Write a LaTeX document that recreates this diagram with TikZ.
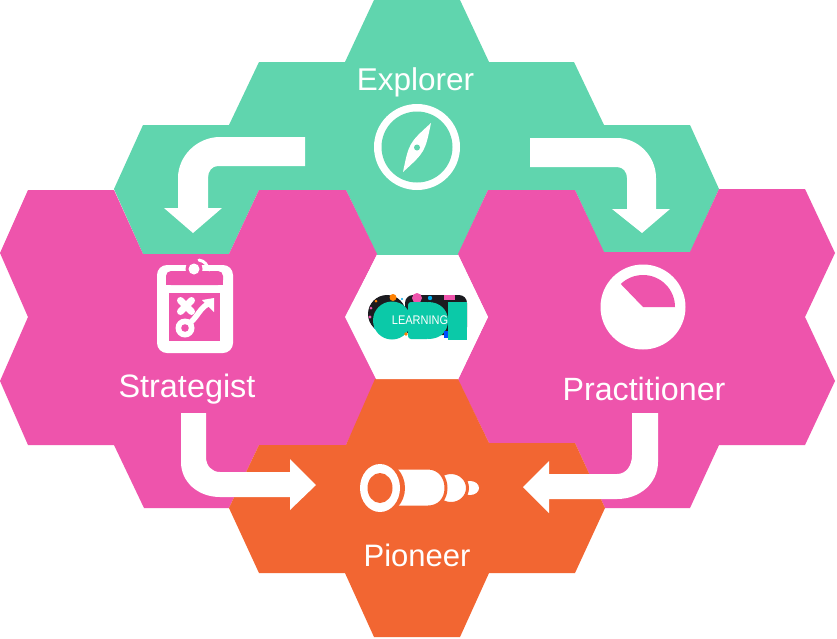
\documentclass[tikz,border=0pt]{standalone}
\usepackage{fontspec}
\setmainfont{Liberation Sans}
\newfontfamily\logofont[FakeStretch=0.88]{Liberation Sans}
\definecolor{hgreen}{HTML}{60D5AE}
\definecolor{hpink}{HTML}{EE54AC}
\definecolor{horange}{HTML}{F26632}
\definecolor{lteal}{HTML}{0BC9A8}
\definecolor{ldark}{HTML}{1B1B20}
\tikzset{
  hexshape/.style={draw=none},
  flow/.style={fill=white,draw=none},
  lab/.style={text=white,inner sep=0pt,anchor=base},
}
\begin{document}
\begin{tikzpicture}[x=1pt,y=-1pt]
\useasboundingbox (0,0) rectangle (837,638);
\fill[white] (0,0) rectangle (837,638);
% green cluster
\fill[hgreen,hexshape] (374,0)--(460,0)--(489,62)--(574,62)--(604,125)--(690,125)--(719,189)--(690,253)--(604,253)--(575,190)--(488,190)--(458,255)--(377,255)--(346,190)--(259,190)--(229,254)--(143,254)--(114,189)--(143,125)--(229,125)--(259,62)--(345,62)--cycle;
% pink left
\fill[hpink,hexshape] (28,190)--(114,190)--(143,254)--(229,254)--(259,190)--(346,190)--(377,254)--(346,317)--(377,380)--(346,445)--(259,445)--(229,508)--(144,508)--(114,445)--(28,445)--(0,381)--(28,317)--(0,253)--cycle;
% pink right
\fill[hpink,hexshape] (488,190)--(575,190)--(604,252)--(690,252)--(719,189)--(805,189)--(835,253)--(805,317)--(835,381)--(805,445)--(719,445)--(690,508)--(605,508)--(575,443)--(489,443)--(458,380)--(488,317)--(458,254)--cycle;
% orange
\fill[horange,hexshape] (375,379)--(458,379)--(489,443)--(575,443)--(605,508)--(575,573)--(489,573)--(460,637)--(374,637)--(345,573)--(259,573)--(229,508)--(259,445)--(346,445)--cycle;
% centre white hexagon
\fill[white,hexshape] (377,255)--(458,255)--(488,317)--(458,379)--(376,379)--(345,317)--cycle;
% arrows
\fill[flow] (305,137)--(220,137) .. controls (197,137) and (178,156) .. (178,178)--(178,208)--(164,208)--(193,233)--(222,208)--(208,208)--(208,178) .. controls (208,171) and (212,166) .. (218,166)--(305,166)--cycle;
\fill[flow] (530,138)--(617,138) .. controls (638,138) and (656,156) .. (656,178)--(656,209)--(670,209)--(642,233)--(612,209)--(627,209)--(627,178) .. controls (627,172) and (623,167) .. (617,167)--(530,167)--cycle;
\fill[flow] (181,413)--(206,413)--(206,457) .. controls (206,466) and (212,472) .. (220,472)--(290,472)--(290,459)--(316,485)--(290,510)--(290,497)--(220,497) .. controls (198,497) and (181,482) .. (181,462)--cycle;
\fill[flow] (658,413)--(632,413)--(632,455) .. controls (632,466) and (626,474) .. (617,474)--(549,474)--(549,461)--(523,487)--(549,513)--(549,499)--(617,499) .. controls (640,499) and (658,483) .. (658,462)--cycle;
% labels
\node[lab,font=\fontsize{31.5}{36}\selectfont] (explorer) at (415.5,90) {Explorer};
\node[lab,font=\fontsize{32.4}{36}\selectfont] (strategist) at (187,397.5) {Strategist};
\node[lab,font=\fontsize{32.2}{36}\selectfont] (practitioner) at (644,400) {Practitioner};
\node[lab,font=\fontsize{31}{36}\selectfont] (pioneer) at (417,566) {Pioneer};
% compass
\fill[white] (417,147) circle[radius=43];
\fill[hgreen] (417,147) circle[radius=35.5];
\fill[white] (403,172) .. controls (409,143) .. (431,123) .. controls (425,152) .. (403,172)--cycle;
\fill[hgreen] (417,147.5) circle[radius=3];
% clipboard
\fill[white,rounded corners=10pt] (157,265) rectangle (233,353);
\fill[hpink,rounded corners=5pt] (166,285)--(166,271)--(223,271)--(223,285)--cycle;
\fill[hpink] (166,279) rectangle (223,285);
\fill[hpink] (169,293) rectangle (220,341);
\fill[hpink] (194,269) circle[radius=8.5];
\fill[white] (194,269) circle[radius=5.5];
\draw[white,line width=3pt,line cap=round] (199,260) .. controls (205,261) and (207,265) .. (209,270);
\draw[white,line width=7pt,line cap=round] (180.5,300.5)--(191.5,311.5) (191.5,300.5)--(180.5,311.5);
\draw[white,line width=5.5pt] (190,323) .. controls (198,316) and (200,308) .. (208,304);
\fill[white] (202,300)--(214,298)--(214,312)--cycle;
\fill[white] (185,328) circle[radius=9.5];
\fill[hpink] (185,328) circle[radius=3.8];
% gauge
\fill[white] (643,307) circle[radius=42.5];
\fill[hpink] (643,307)--(675,307) arc[start angle=0,end angle=-134,radius=32]--cycle;
% spyglass
\fill[white] (470,488) ellipse[x radius=9,y radius=7];
\draw[horange,line width=3pt,fill=white] (451,488) ellipse[x radius=16.5,y radius=15.5];
\draw[horange,line width=3pt,fill=white] (395,468)--(428,468) .. controls (439,468) and (446,477) .. (446,488) .. controls (446,499) and (439,507) .. (428,507)--(395,507)--cycle;
\fill[horange] (380,488) ellipse[x radius=25,y radius=27];
\fill[white] (380,488) ellipse[x radius=20,y radius=24];
\fill[horange] (380,488) ellipse[x radius=12.5,y radius=15];
% logo
\fill[ldark] (387,314) circle[radius=19];
\fill[ldark,rounded corners=8pt] (405,335)--(405,295)--(467,295)--(467,335)--cycle;
\fill[orange] (393,297.5) circle[radius=3.5];
\fill[orange] (376,301) circle[radius=1.5];
\fill[hpink] (371,308) circle[radius=1.5];
\fill[hpink] (370,317) circle[radius=1.6];
\fill[cyan] (375,328) circle[radius=1.2];
\fill[cyan] (402,299) circle[radius=1.2];
\fill[hpink] (417,298) circle[radius=5];
\fill[cyan] (430,298) circle[radius=2.2];
\fill[hpink] (444,295) rectangle (455,300);
\fill[lteal] (392,320.5) circle[radius=19];
\fill[lteal,rounded corners=3pt] (408,339)--(408,302)--(430,302)--(430,339)--cycle;
\fill[lteal] (428,302) .. controls (440,302) and (448,310) .. (448,320.5) .. controls (448,332) and (440,339) .. (428,339)--cycle;
\fill[blue!70!cyan] (444,331) rectangle (449,338);
\fill[orange] (406,334) circle[radius=1.8];
\fill[lteal] (448,302) rectangle (467,339.5);
\node[text=white,inner sep=0pt,font=\logofont\fontsize{12.5}{14}\selectfont] (logotext) at (420,320) {LEARNING};
\end{tikzpicture}
\end{document}
